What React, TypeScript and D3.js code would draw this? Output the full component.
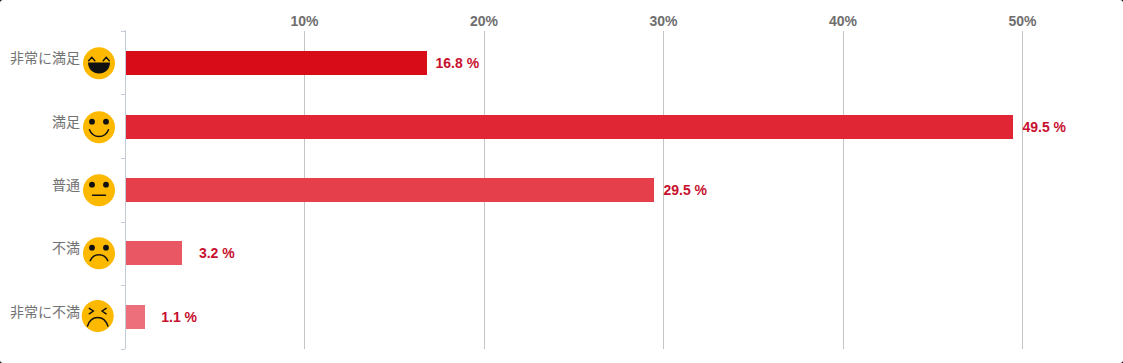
import React from "react";
import * as d3 from "d3";

const categories = ["非常に満足", "満足", "普通", "不満", "非常に不満"];
const faces = ["laugh", "smile", "neutral", "frown", "cry"];
const values = [16.8, 49.5, 29.5, 3.2, 1.1];
const barColors = ["#d80c18", "#e02535", "#e43f4a", "#e85763", "#ec6f7b"];
const xTicks = [10, 20, 30, 40, 50];

const W = 1123, H = 363;
const x = d3.scaleLinear().domain([0, 50]).range([125, 1022.4]);
const yCenter = d3.scalePoint<string>().domain(categories).range([63.2, 316.8]);
const yBand = d3.scaleBand<string>().domain(categories).range([30.5, 349]);
const BAR_H = 24;
const AXIS_X = 125.5;

function Face({ kind, cx, cy }: { kind: string; cx: number; cy: number }) {
  const eyes = (
    <>
      <circle cx={-7} cy={-5.6} r={2.9} fill="#111" />
      <circle cx={7} cy={-5.6} r={2.9} fill="#111" />
    </>
  );
  const stroke = { fill: "none", stroke: "#111", strokeWidth: 1.5, strokeLinecap: "round" as const };
  return (
    <g transform={`translate(${cx},${cy})`}>
      <circle r={16} fill="#fdb900" />
      {kind === "laugh" && (
        <>
          <path d="M-10.3,-2.6 L-7.2,-6 L-4.2,-2.6" {...stroke} />
          <path d="M4.2,-2.6 L7.2,-6 L10.3,-2.6" {...stroke} />
          <path d="M-11,-0.7 H11 C11,6 6,10.3 0,10.3 C-6,10.3 -11,6 -11,-0.7 Z" fill="#111" />
        </>
      )}
      {kind === "smile" && (
        <>
          {eyes}
          <path d="M-9.5,2.5 C-6,11.5 6,11.5 9.5,2.5" {...stroke} />
        </>
      )}
      {kind === "neutral" && (
        <>
          {eyes}
          <path d="M-6.5,5 H6.5" {...stroke} />
        </>
      )}
      {kind === "frown" && (
        <>
          {eyes}
          <path d="M-8.8,7.3 C-5,-0.5 5,-0.5 8.8,7.3" {...stroke} />
        </>
      )}
      {kind === "cry" && (
        <>
          <path d="M-8.4,-7.7 L-4.4,-5 L-8.4,-2.2" {...stroke} />
          <path d="M8.4,-7.7 L4.4,-5 L8.4,-2.2" {...stroke} />
          <path d="M-10.2,10 C-6.5,-1.5 6.5,-1.5 10.2,10" {...stroke} />
        </>
      )}
    </g>
  );
}

export default function App() {
  const boundaries = [...categories.map((c) => yBand(c)!), 349];
  return (
    <svg
      width={W}
      height={H}
      style={{ position: "absolute", left: 0, top: 0, display: "block", background: "#000" }}
    >
      <rect x={0} y={0} width={W} height={H} rx={3} fill="#fff" />
      <g opacity={0.999}>
        {xTicks.map((t) => {
          const px = Math.round(x(t)) + 0.5;
          return (
            <g key={t}>
              <line x1={px} x2={px} y1={31} y2={349} stroke="#c4c4c4" />
              <text
                x={x(t)}
                y={26}
                textAnchor="middle"
                fontFamily="Liberation Sans"
                fontWeight="bold"
                fontSize={14}
                fill="#6e6e6e"
              >
                {t}%
              </text>
            </g>
          );
        })}
        <line x1={AXIS_X} x2={AXIS_X} y1={30} y2={349} stroke="#c3ccd6" />
        {boundaries.map((b, i) => (
          <line key={i} x1={121} x2={125} y1={Math.round(b) + 0.5} y2={Math.round(b) + 0.5} stroke="#c3ccd6" />
        ))}
        {categories.map((c, i) => {
          const cy = yCenter(c)!;
          const top = Math.round(cy - BAR_H / 2);
          return (
            <g key={c}>
              <rect
                x={126}
                y={top}
                width={Math.round(x(values[i])) - 126}
                height={BAR_H}
                fill={barColors[i]}
              />
              <text
                x={80}
                y={top + 12}
                textAnchor="end"
                fontFamily="Noto Sans CJK JP"
                fontSize={14}
                fill="#727272"
              >
                {c}
              </text>
              <Face kind={faces[i]} cx={i === 4 ? 97.7 : 99} cy={i === 4 ? 316 : top + 12.3} />
              <text
                x={x(values[i]) + [9, 9, 9, 16.5, 16.5][i]}
                y={top + 17}
                fontFamily="Liberation Sans"
                fontWeight="bold"
                fontSize={14}
                fill="#c8102e"
              >
                {values[i].toFixed(1)} %
              </text>
            </g>
          );
        })}
      </g>
    </svg>
  );
}
